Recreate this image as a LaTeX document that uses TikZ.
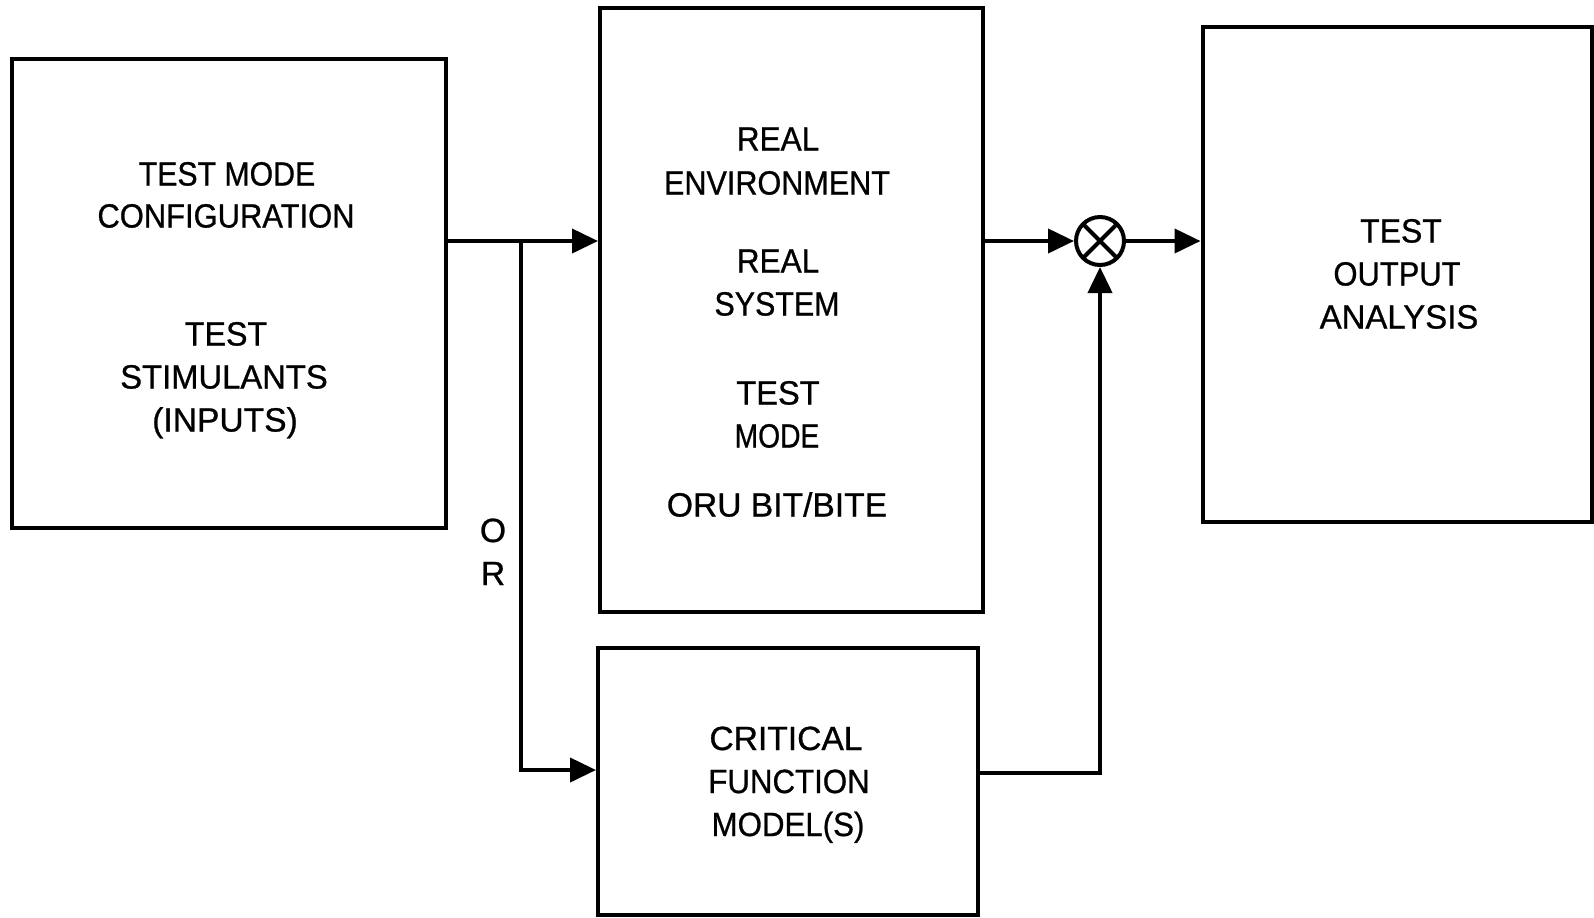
\documentclass[tikz,border=0pt]{standalone}
\usepackage{fontspec}
\usepackage{graphicx}
\setmainfont{Liberation Sans}[UprightFeatures={FakeBold=0.8}]
\usetikzlibrary{arrows.meta}
\newcommand\sq[2]{\scalebox{#1}[1]{#2}}
\begin{document}
\begin{tikzpicture}[x=0.5pt,y=-0.5pt,
  box/.style={draw, line width=2pt, inner sep=0pt, line join=miter},
  lbl/.style={anchor=base, inner sep=0pt, font=\fontsize{16.8}{20}\selectfont},
  conn/.style={line width=2pt, line join=miter},
  arr/.style={conn, -{Triangle[length=13pt,width=12pt]}},
  sumnode/.style={draw, circle, line width=2pt, minimum size=24pt, inner sep=0pt}]
\useasboundingbox (0,0) rectangle (1594,917);
% boxes
\node[box, minimum width=217pt, minimum height=234.5pt] (L) at (229,293.5) {};
\node[box, minimum width=191.5pt, minimum height=302pt] (M) at (791.5,310) {};
\node[box, minimum width=194.5pt, minimum height=247.5pt] (R) at (1397,274.5) {};
\node[box, minimum width=190pt, minimum height=133.5pt] (B) at (788,781.5) {};
\node[sumnode] (S) at (1100,241) {};
\draw[line width=2pt, shorten >=1.5pt, shorten <=1.5pt] (S.north west) -- (S.south east);
\draw[line width=2pt, shorten >=1.5pt, shorten <=1.5pt] (S.north east) -- (S.south west);
% left texts
\node[lbl] (l1) at (227,185.5) {\sq{0.90}{TEST MODE}};
\node[lbl] (l2) at (226,227.5) {\sq{0.92}{CONFIGURATION}};
\node[lbl] (l3) at (226,345.5) {\sq{0.96}{TEST}};
\node[lbl] (l4) at (224,388.5) {\sq{0.975}{STIMULANTS}};
\node[lbl] (l5) at (225,431.5) {(INPUTS)};
% middle texts
\node[lbl] (m1) at (778,150.5) {\sq{0.94}{REAL}};
\node[lbl] (m2) at (777,194.5) {\sq{0.91}{ENVIRONMENT}};
\node[lbl] (m3) at (778,272.5) {\sq{0.94}{REAL}};
\node[lbl] (m4) at (777,315.5) {\sq{0.905}{SYSTEM}};
\node[lbl] (m5) at (778,404.5) {\sq{0.97}{TEST}};
\node[lbl] (m6) at (777,447.5) {\sq{0.84}{MODE}};
\node[lbl] (m7) at (777,516.5) {ORU BIT/BITE};
% right texts
\node[lbl] (r1) at (1401,242.5) {\sq{0.95}{TEST}};
\node[lbl] (r2) at (1397,285.5) {\sq{0.92}{OUTPUT}};
\node[lbl] (r3) at (1399,328.5) {\sq{0.98}{ANALYSIS}};
% bottom texts
\node[lbl] (b1) at (786,750) {CRITICAL};
\node[lbl] (b2) at (789,793) {\sq{0.93}{FUNCTION}};
\node[lbl] (b3) at (788,836) {\sq{0.93}{MODEL(S)}};
% OR
\node[lbl] (o1) at (493,542) {O};
\node[lbl] (o2) at (493,585) {R};
% connectors
\coordinate (br) at (521,241);
\coordinate (bj) at (521,770);
\coordinate (bk) at (1100,773);
\draw[arr] (L.east |- S) -- (M.west |- S);
\draw[arr] (br) -- (bj) -- (B.west |- bj);
\draw[arr] (M.east |- S) -- (S.west);
\draw[arr] (S.east) -- (R.west |- S);
\draw[arr] (B.east |- bk) -- (bk) -- (S.south);
\end{tikzpicture}
\end{document}
